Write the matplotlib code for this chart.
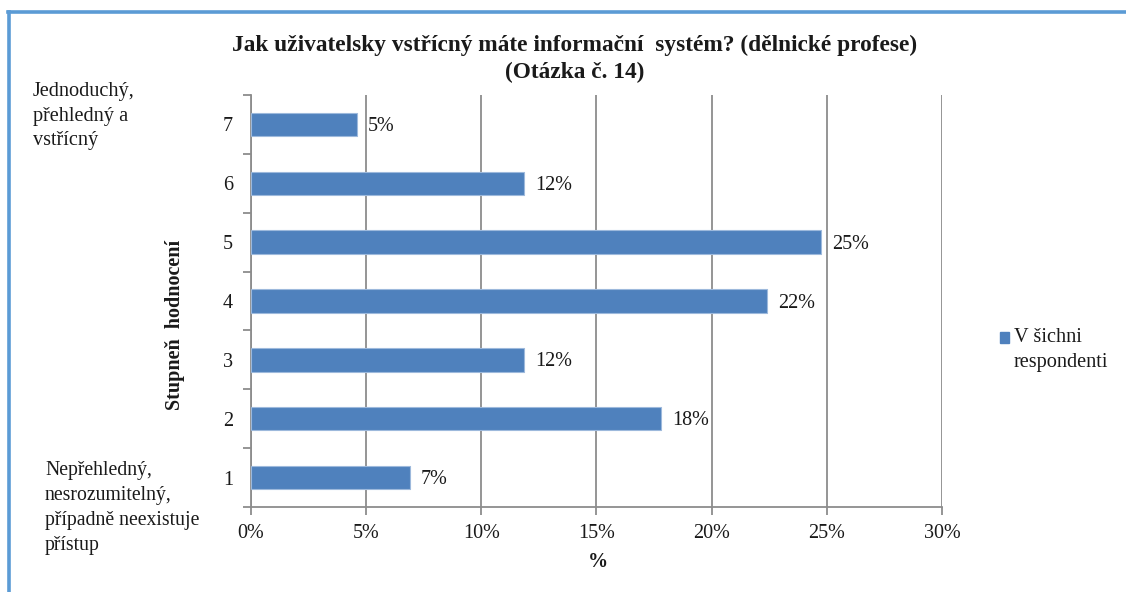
import matplotlib
matplotlib.use("Agg")
import matplotlib.pyplot as plt
from matplotlib.lines import Line2D
from matplotlib.patches import Rectangle
from matplotlib.ticker import FuncFormatter

# Rating scale (1 = worst, 7 = best) and share of respondents in percent
categories = ["1", "2", "3", "4", "5", "6", "7"]
shares = [6.90, 17.80, 11.87, 22.42, 24.75, 11.87, 4.59]
x_ticks = [0, 5, 10, 15, 20, 25, 30]

title = "Jak uživatelsky vstřícný máte informační  systém? (dělnické profese)\n(Otázka č. 14)"
y_label = "Stupneň  hodnocení"
x_label = "%"
top_note = "Jednoduchý,\npřehledný a\nvstřícný"
bottom_note = "Nepřehledný,\nnesrozumitelný,\npřípadně neexistuje\npřístup"
series_name = "V šichni\nrespondenti"

bar_color = "#4F81BD"
grid_color = "#8C8C8C"
frame_color = "#5B9BD5"
text_color = "#1a1a1a"

plt.rcParams["font.family"] = ["Liberation Serif", "DejaVu Serif"]

fig = plt.figure(figsize=(11.26, 5.92), dpi=100)
ax = fig.add_axes([251 / 1126, 1 - 507 / 592, 691 / 1126, 412 / 592])

pos = list(range(len(categories)))
ax.barh(pos, shares, height=0.4, color=bar_color, edgecolor="#9DB9DC",
        linewidth=0.8, zorder=3)

for p, v in zip(pos, shares):
    ax.annotate(f"{v:.0f}%", xy=(v, p), xytext=(8, -1.5), textcoords="offset points",
                ha="left", va="center", fontsize=14.5, color=text_color)

ax.set_xlim(x_ticks[0], x_ticks[-1])
ax.set_ylim(-0.5, len(categories) - 0.5)
ax.set_xticks(x_ticks)
ax.xaxis.set_major_formatter(FuncFormatter(lambda v, _: f"{v:.0f}%"))
ax.set_yticks(pos)
ax.set_yticklabels(categories)
ax.set_yticks([p - 0.5 for p in pos] + [len(categories) - 0.5], minor=True)

ax.grid(axis="x", color=grid_color, linewidth=1.3, zorder=0)
for s in ["top", "right"]:
    ax.spines[s].set_visible(False)
for s in ["left", "bottom"]:
    ax.spines[s].set_color(grid_color)
    ax.spines[s].set_linewidth(1.3)

ax.tick_params(axis="x", length=6, width=1.3, color=grid_color, labelsize=14.5,
               pad=6, labelcolor=text_color)
ax.tick_params(axis="y", which="major", length=0, pad=13, labelsize=14.5,
               labelcolor=text_color)
ax.tick_params(axis="y", which="minor", length=6, width=1.3, color=grid_color)

fig.text(598 / 1126, 1 - 562 / 592, x_label, ha="center", va="center",
         fontsize=14.5, fontweight="bold", color=text_color)
fig.text(175 / 1126, 1 - 325 / 592, y_label, ha="center", va="center",
         rotation=90, fontsize=14.5, fontweight="bold", color=text_color)
fig.text(575 / 1126, 1 - 59 / 592, title, ha="center", va="center",
         fontsize=16.8, fontweight="bold", linespacing=1.32, color=text_color)

fig.text(33 / 1126, 1 - 116 / 592, top_note, ha="left", va="center",
         fontsize=14.6, linespacing=1.42, color=text_color)
fig.text(45 / 1126, 1 - 508 / 592, bottom_note, ha="left", va="center",
         fontsize=14.2, linespacing=1.45, color=text_color)

# Legend entry: square marker with a two-line label
fig.patches.append(Rectangle((1000 / 1126, 1 - 343 / 592), 9 / 1126, 11 / 592,
                             transform=fig.transFigure, color=bar_color))
fig.text(1014 / 1126, 1 - 350 / 592, series_name, ha="left", va="center",
         fontsize=14.6, linespacing=1.42, color=text_color)

# Chart frame along the top and left edges
fig.add_artist(Line2D([8 / 1126, 1], [1 - 12 / 592, 1 - 12 / 592],
                      transform=fig.transFigure, color=frame_color, linewidth=2.6))
fig.add_artist(Line2D([9 / 1126, 9 / 1126], [0, 1 - 12 / 592],
                      transform=fig.transFigure, color=frame_color, linewidth=2.6))

fig.savefig("out.png", dpi=100)
